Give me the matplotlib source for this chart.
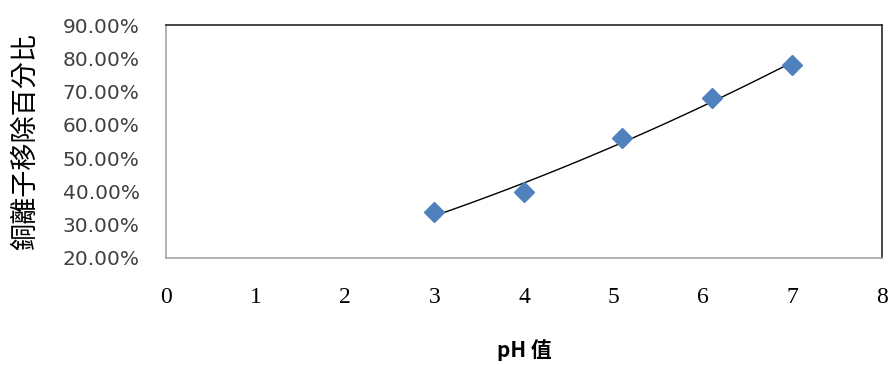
import numpy as np
from matplotlib import pyplot as plt
from matplotlib.ticker import FuncFormatter

# pH vs copper ion removal
ph_vals = [3.0, 4.0, 5.1, 6.1, 7.0]
removal_vals = [0.339, 0.397, 0.561, 0.680, 0.780]
x_ticks = [0, 1, 2, 3, 4, 5, 6, 7, 8]
y_ticks = [0.2, 0.3, 0.4, 0.5, 0.6, 0.7, 0.8, 0.9]

fig = plt.figure(figsize=(8.91, 3.65), dpi=100)
ax = fig.add_axes([0.1863, 0.2932, 0.8036, 0.6383])

# second order trendline like the spreadsheet one
coef = np.polyfit(ph_vals, removal_vals, 2)
xs = np.linspace(min(ph_vals), max(ph_vals), 100)
ax.plot(xs, np.polyval(coef, xs), color="black", linewidth=1.0, zorder=2)

ax.plot(ph_vals, removal_vals, linestyle="none", marker="D", markersize=10.5,
        color="#4F81BD", markeredgecolor="#4F81BD", zorder=3)

ax.set_xlim(0, 8)
ax.set_ylim(0.2, 0.9)
ax.set_xticks(x_ticks)
ax.set_yticks(y_ticks)
ax.yaxis.set_major_formatter(FuncFormatter(lambda v, p: "{:.2f}%".format(v * 100)))

ax.tick_params(axis="both", length=0)
ax.tick_params(axis="y", pad=19, labelsize=14.5, labelcolor="#404040")
ax.tick_params(axis="x", pad=21, labelsize=17)
for lab in ax.get_xticklabels():
    lab.set_family("Liberation Serif")
for lab in ax.get_yticklabels():
    lab.set_family("DejaVu Sans")

ax.spines["left"].set_color("#A6A6A6")
ax.spines["bottom"].set_color("#A6A6A6")
ax.spines["top"].set_color("#262626")
ax.spines["right"].set_color("#262626")
for s in ax.spines.values():
    s.set_linewidth(1.2)

ax.set_xlabel("pH 值", family=["Noto Sans CJK TC", "DejaVu Sans"],
              fontsize=15, fontweight="bold", labelpad=22)
fig.text(0.029, 0.613, "銅離子移除百分比", family=["Noto Sans CJK TC", "DejaVu Sans"],
         fontsize=19.5, rotation=90, ha="center", va="center")

fig.savefig("out.png", dpi=100)
